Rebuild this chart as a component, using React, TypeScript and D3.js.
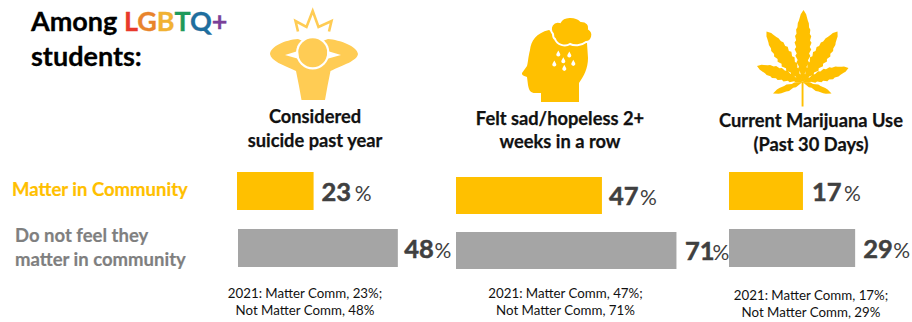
import React from "react";
import * as d3 from "d3";

const FONT = "Lato, Carlito, 'Open Sans', sans-serif";
const GOLD = "#FFC000";
const GOLD_SOFT = "#FFCC54";
const GRAY = "#A5A5A5";
const INK = "#404040";

const titleLetters = [
  { ch: "L", color: "#E8392B" },
  { ch: "G", color: "#E8842C" },
  { ch: "B", color: "#F1B233" },
  { ch: "T", color: "#1E9A5B" },
  { ch: "Q", color: "#1F6E9E" },
  { ch: "+", color: "#7A3F98" },
];

const groups = ["Matter in Community", "Do not feel they", "matter in community"];
const panelTitles = [
  ["Considered", "suicide past year"],
  ["Felt sad/hopeless 2+", "weeks in a row"],
  ["Current Marijuana Use", "(Past 30 Days)"],
];
const matterValues = [23, 47, 17];
const notMatterValues = [48, 71, 29];
const footnotes = [
  ["2021: Matter Comm, 23%;", "Not Matter Comm, 48%"],
  ["2021: Matter Comm, 47%;", "Not Matter Comm, 71%"],
  ["2021: Matter Comm, 17%;", "Not Matter Comm, 29%"],
];

// Each panel has its own horizontal scale and its own row placement.
const panelLayout = [
  { x0: [237, 238], unit: 3.33, rows: [[172, 38], [229, 38]], titleX: 315, titleY: [123, 147], noteX: 305, noteY: [298, 315], labelDx: [8, 6.500], pctDx: [3.500, 0.500] },
  { x0: [456, 456], unit: 3.105, rows: [[177, 37], [232, 37]], titleX: 560, titleY: [125, 148], noteX: 565.500, noteY: [298, 315], labelDx: [7, 8.500], pctDx: [1.500, -2] },
  { x0: [729, 729], unit: 4.35, rows: [[172, 38], [229, 38]], titleX: 811, titleY: [127, 151], noteX: 811, noteY: [299.500, 317], labelDx: [9, 8], pctDx: [2.500, 0.500] },
];

type Pt = [number, number];
const outline = d3.line<Pt>().x((p) => p[0]).y((p) => p[1]);

// Builds one serrated cannabis leaflet running from its base to its tip.
function leaflet(base: Pt, tip: Pt, halfWidth: number, teeth: number): string {
  const dx = tip[0] - base[0];
  const dy = tip[1] - base[1];
  const len = Math.hypot(dx, dy);
  const nx = -dy / len;
  const ny = dx / len;
  const at = (t: number, w: number): Pt => [base[0] + dx * t + nx * w, base[1] + dy * t + ny * w];
  const profile = (t: number) => halfWidth * Math.pow(Math.sin(Math.PI * Math.pow(t, 1.1)), 0.8);
  const side = (sign: number) => {
    const pts: Pt[] = [];
    for (let i = 1; i <= teeth; i++) {
      const t = i / (teeth + 1);
      pts.push(at(t, sign * profile(t)));
      pts.push(at(t + 0.35 / (teeth + 1), sign * profile(t) * 0.82));
    }
    return pts;
  };
  return outline([base, ...side(1), tip, ...side(-1).reverse()]) + "Z";
}

const leafHub: Pt = [802.500, 82];
const leaflets: { tip: Pt; w: number; n: number }[] = [
  { tip: [803.500, 10], w: 8.500, n: 10 },
  { tip: [766.500, 31.500], w: 8.500, n: 9 },
  { tip: [837.500, 31.500], w: 8.500, n: 9 },
  { tip: [757, 66], w: 6.500, n: 7 },
  { tip: [848.500, 68], w: 6.500, n: 7 },
  { tip: [773, 93.500], w: 3.500, n: 3 },
  { tip: [831.500, 93.500], w: 3.500, n: 3 },
];

const personIcon = (
  <g>
    <polyline points="298,31.500 295.500,21 306.500,27 312.700,11 318.500,27 331.500,21 329,31.500" fill="none" stroke={GOLD_SOFT} strokeWidth={2.600} strokeLinejoin="miter" />
    <path fill={GOLD_SOFT} d="M298 39 C285 40 271 46 270 54 C271 61 283 65 296 71 L299 86 L301.500 100 L325 100 L327.500 86 L330.500 71 C343 65 357 61 358 54 C357 46 340 40 328 39 L312 45 Z" />
    <circle cx={312.700} cy={52.700} r={16.700} fill="#fff" />
    <circle cx={312.700} cy={52.700} r={14.500} fill={GOLD_SOFT} />
    <path fill="#fff" d="M285 55 L298 51 L299 59 Z M341 55 L327.500 51 L326.500 59 Z" />
  </g>
);

const drops: [number, number][] = [[558.300, 54], [569.300, 55], [554.300, 64], [563.300, 60.700], [573.300, 63.300], [564.300, 68.300]];

const headIcon = (
  <g fill={GOLD}>
    <path d="M549 30 C536 33 531 41 530 50 C528 58 528 63 527 66 L522 73 C521.500 75 524 76 527 77 L528 85 C529 91 531 93 535 93 L541 93 L541 102 L579 102 L579 83 C584 76 588 68 588 58 L587 43 L565 40 Z" />
    <path stroke="#fff" strokeWidth={2} d="M553 34 C548 28 553 20 560 22 C563 16 575 15 581 21 C587 21 590 25 589 29 C595 33 592 42 586 42 C581 46 574 46 570 44 C565 47 557 45 555 39 C553 38 553 36 553 34 Z" />
    {drops.map(([cx, cy], i) => (
      <path key={i} fill="#fff" d={`M${cx} ${cy - 3.500} L${cx + 1.900} ${cy} A2 2 0 1 1 ${cx - 1.900} ${cy} Z`} />
    ))}
  </g>
);

const leafIcon = (
  <g fill={GOLD}>
    {leaflets.map((l, i) => <path key={i} d={leaflet(leafHub, l.tip, l.w, l.n)} />)}
    <rect x={801.600} y={82} width={1.900} height={24.500} />
  </g>
);

function Panel({ index }: { index: number }) {
  const layout = panelLayout[index];
  const vals = [matterValues[index], notMatterValues[index]];
  return (
    <g>
      {panelTitles[index].map((t, i) => (
        <text key={t} x={layout.titleX} y={layout.titleY[i]} textAnchor="middle" fontSize={18.300} fontWeight={700} fill="#111" stroke="#111" strokeWidth={0.250}>{t}</text>
      ))}
      {vals.map((v, i) => {
        const [y, h] = layout.rows[i];
        const x = d3.scaleLinear().domain([0, 100]).range([layout.x0[i], layout.x0[i] + layout.unit * 100]);
        return (
          <g key={i}>
            <rect x={x(0)} y={y} width={x(v) - x(0)} height={h} fill={i === 0 ? GOLD : GRAY} />
            <text x={x(v) + layout.labelDx[i]} y={y + h / 2 + 9.700} fill={INK}>
              <tspan fontSize={25.500} fontWeight={700} stroke={INK} strokeWidth={0.500}>{v}</tspan>
              <tspan fontSize={21} dx={layout.pctDx[i]}>%</tspan>
            </text>
          </g>
        );
      })}
      {footnotes[index].map((t, i) => (
        <text key={t} x={layout.noteX} y={layout.noteY[i]} textAnchor="middle" fontSize={13.300} fill="#111">{t}</text>
      ))}
    </g>
  );
}

export default function App() {
  return (
    <svg width={912} height={322} viewBox="0 0 912 322" fontFamily={FONT} style={{ position: "absolute", left: 0, top: 0, background: "#fff" }}>
      <g fontSize={27} fontWeight={700} strokeWidth={0.300}>
        <text x={31} y={31} fill="#000" stroke="#000">
          Among{" "}
          {titleLetters.map((l) => (
            <tspan key={l.ch} fill={l.color} stroke={l.color}>{l.ch}</tspan>
          ))}
        </text>
        <text x={31} y={65.500} fill="#000" stroke="#000">students:</text>
      </g>

      {personIcon}
      {headIcon}
      {leafIcon}

      <g fontSize={18.500} fontWeight={700} strokeWidth={0.200}>
        <text x={12} y={196} fill={GOLD} stroke={GOLD}>{groups[0]}</text>
        <text x={15} y={242} fill="#7F7F7F" stroke="#7F7F7F">{groups[1]}</text>
        <text x={15} y={266} fill="#7F7F7F" stroke="#7F7F7F">{groups[2]}</text>
      </g>

      {panelTitles.map((_, i) => <Panel key={i} index={i} />)}
    </svg>
  );
}
